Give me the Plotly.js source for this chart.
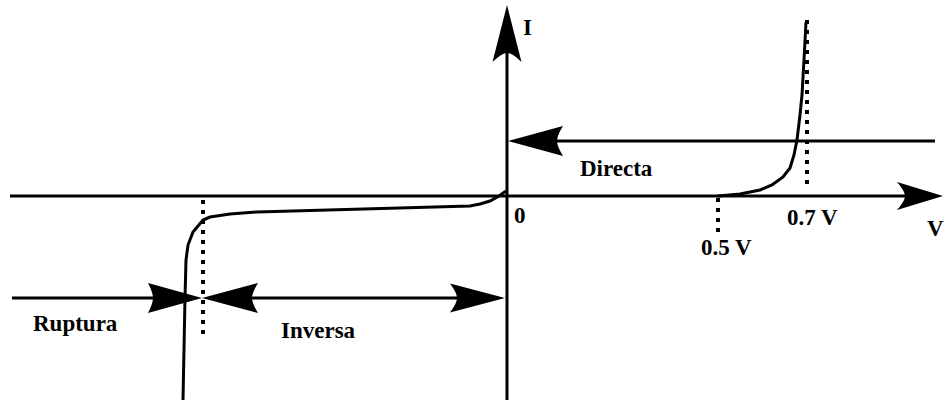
<!DOCTYPE html>
<html>
<head>
<meta charset="utf-8">
<script src="https://cdn.plot.ly/plotly-3.0.1.min.js"></script>
<style>html,body{margin:0;padding:0;background:#fff;}#chart{width:945px;height:402px;}</style>
</head>
<body>
<div id="chart"></div>
<script>
// Diagram units: origin at the crossing of the V and I axes (not to scale)
const forwardV = [211, 233, 253, 265, 276, 283, 287, 290, 293, 295, 297, 299];
const forwardI = [0, 2, 6, 11, 19, 28, 41, 56, 81, 101, 136, 174];

const reverseV = [-1, -8, -17, -27, -37, -107, -207, -250, -277, -297, -304, -314, -319, -321, -322, -323, -324];
const reverseI = [5, 0, -5, -8, -10, -12, -15, -16, -18, -21, -24, -36, -49, -64, -102, -154, -204];

const kneeV = [211, 300, -304];          // 0.5 V, 0.7 V, breakdown
const kneeTop = [-2, 176, -4];
const kneeBottom = [-36, 8, -144];

const labelTexts = ["I", "0", "Directa", "0.5 V", "0.7 V", "V", "Ruptura", "Inversa"];
const labelX = [20, 13, 109, 219, 305, 428, -432, -189];
const labelY = [169, -19, 28, -51, -21, -32, -127, -134];

// arrow head path (concave back)
function head(tx, ty, dx, dy, len, hw, notch) {
  const px = -dy, py = dx;
  const bx = tx - dx * len, by = ty - dy * len;
  const c1x = bx + px * hw, c1y = by + py * hw;
  const c2x = bx - px * hw, c2y = by - py * hw;
  const nx = bx + dx * notch, ny = by + dy * notch;
  const q1x = bx + dx * notch + px * hw * 0.35, q1y = by + dy * notch + py * hw * 0.35;
  const q2x = bx + dx * notch - px * hw * 0.35, q2y = by + dy * notch - py * hw * 0.35;
  return {
    type: 'path', xref: 'x', yref: 'y',
    path: `M${tx},${ty} L${c1x},${c1y} Q${q1x},${q1y} ${nx},${ny} Q${q2x},${q2y} ${c2x},${c2y} Z`,
    fillcolor: '#000', line: {width: 0}
  };
}
function seg(x0, y0, x1, y1) {
  return {type: 'line', xref: 'x', yref: 'y', x0, y0, x1, y1, line: {color: '#000', width: 3}};
}

const shapes = [
  seg(-497, 0, 400, 0), head(436, 0, 1, 0, 46, 14, 8),
  seg(0, -204, 0, 146), head(0, 191, 0, 1, 57, 14.5, 9),
  seg(428, 55, 50, 55), head(1, 55, -1, 0, 55, 15, 6),
  seg(-495, -102, -352, -102), head(-305, -102, 1, 0, 54, 15, 5),
  head(-305, -102, -1, 0, 56, 15, 6),
  seg(-255, -102, -48, -102), head(-2, -102, 1, 0, 55, 14.5, 7)
];

const traces = [
  {x: forwardV, y: forwardI, mode: 'lines', line: {color: '#000', width: 3}, hoverinfo: 'skip'},
  {x: reverseV, y: reverseI, mode: 'lines', line: {color: '#000', width: 3}, hoverinfo: 'skip'}
];
kneeV.forEach((v, i) => {
  traces.push({x: [v, v], y: [kneeTop[i], kneeBottom[i]], mode: 'lines',
    line: {color: '#000', width: 4, dash: '4px,6px'}, hoverinfo: 'skip'});
});

const annotations = labelTexts.map((t, i) => ({
  x: labelX[i], y: labelY[i], xref: 'x', yref: 'y', text: t, showarrow: false,
  font: {family: 'Liberation Serif, Times New Roman, serif', size: 23, weight: 'bold', color: '#000'}
}));

const layout = {
  width: 945, height: 402,
  margin: {l: 0, r: 0, t: 0, b: 0},
  paper_bgcolor: '#fff', plot_bgcolor: '#fff',
  showlegend: false,
  xaxis: {range: [-507, 438], visible: false, fixedrange: true},
  yaxis: {range: [-206, 196], visible: false, fixedrange: true},
  shapes, annotations
};
Plotly.newPlot('chart', traces, layout, {displayModeBar: false, staticPlot: true});
</script>
</body>
</html>
